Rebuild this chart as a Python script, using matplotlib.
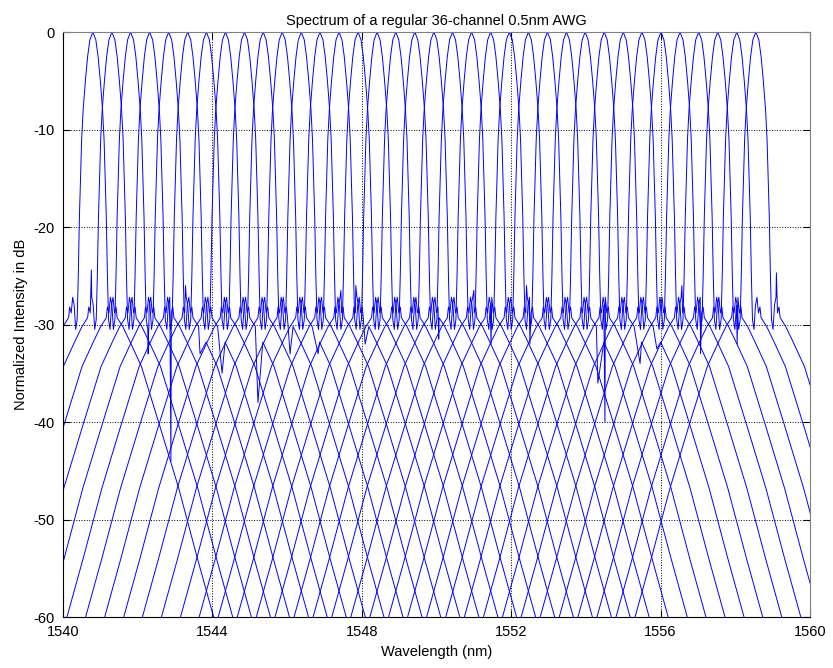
import numpy as np
import matplotlib
matplotlib.use("Agg")
import matplotlib.pyplot as plt

plt.rcParams["axes.unicode_minus"] = False

# ==== channel centre wavelengths (nm), read from the peaks ====
centers = [1540.80, 1541.31, 1541.81, 1542.32, 1542.83, 1543.34, 1543.84, 1544.35,
           1544.86, 1545.36, 1545.87, 1546.38, 1546.88, 1547.39, 1547.90, 1548.41,
           1548.91, 1549.42, 1549.93, 1550.43, 1550.94, 1551.45, 1551.95, 1552.46,
           1552.97, 1553.48, 1553.98, 1554.49, 1555.00, 1555.50, 1556.01, 1556.52,
           1557.02, 1557.53, 1558.04, 1558.55]

# ==== one channel response: offset from centre (nm) vs dB ====
prof_off = [-3.4, -2.8, -2.3, -1.8, -1.3, -1.0, -0.8, -0.65, -0.62, -0.58, -0.54,
            -0.50, -0.46, -0.42, -0.39, -0.36, -0.33, -0.30, -0.26, -0.20, -0.14,
            -0.08, 0.0, 0.08, 0.14, 0.20, 0.26, 0.30, 0.33, 0.36, 0.39, 0.42,
            0.46, 0.50, 0.54, 0.58, 0.62, 0.65, 0.8, 1.0, 1.3, 1.8, 2.3, 2.8, 3.4]
prof_db = [-62.3, -54.0, -46.8, -40.5, -34.3, -31.8, -30.2, -29.3, -28.2, -28.8, -27.2,
           -28.0, -30.5, -29.5, -25.0, -19.0, -15.0, -11.0, -8.0, -5.0, -2.5,
           -0.8, 0.0, -0.8, -2.5, -5.0, -8.0, -11.0, -15.0, -19.0, -25.0, -29.5,
           -30.5, -28.0, -27.2, -28.8, -28.2, -29.3, -30.2, -31.8, -34.3, -40.5, -46.8, -54.0, -62.3]

# ==== individual sidelobe spikes: channel index, offset (nm), dB ====
spike_ch = [1, 35, 2, 3, 4, 5, 7, 9, 10, 13, 17, 20, 22, 25, 26, 27, 28, 31, 33,
            6, 12, 15, 19, 24, 30]
spike_off = [-0.55, 0.55, 0.47, 0.57, 0.84, 0.92, 0.87, 0.72, 0.96, 0.70, 0.64, 0.52, 0.55,
             0.84, 0.53, 0.96, 0.90, 0.55, 0.52,
             -0.56, 0.56, -0.57, 0.57, -0.56, 0.56]
spike_db = [-24.4, -24.7, -33.0, -44.0, -33.0, -35.0, -38.0, -33.0, -33.0, -32.0, -31.5, -32.0, -32.0,
            -36.0, -40.0, -34.0, -32.5, -33.0, -32.0,
            -26.0, -26.5, -26.0, -26.5, -26.0, -26.0]

fig = plt.figure(figsize=(8.33, 6.68), dpi=100)
ax = fig.add_axes([0.0756, 0.0763, 0.8968, 0.8757])

for k, c in enumerate(centers):
    off = list(prof_off)
    db = list(prof_db)
    for ch, so, sd in zip(spike_ch, spike_off, spike_db):
        if ch == k:
            off.append(so)
            db.append(sd)
    order = np.argsort(off, kind="stable")
    x = c + np.array(off)[order]
    y = np.array(db)[order]
    ax.plot(x, y, color="#0000ff", linewidth=0.7)

ax.set_xlim(1540, 1560)
ax.set_ylim(-60, 0)
ax.set_xticks([1540, 1544, 1548, 1552, 1556, 1560])
ax.set_yticks([-60, -50, -40, -30, -20, -10, 0])
ax.grid(True, linestyle=":", color="black", linewidth=0.7)
ax.tick_params(direction="in", top=True, right=True, labelsize=10.5, length=5, pad=6)
for s in ["top", "right"]:
    ax.spines[s].set_color("#808080")

ax.set_title("Spectrum of a regular 36-channel 0.5nm AWG", fontsize=10.5, pad=5)
ax.set_xlabel("Wavelength (nm)", fontsize=10.5, labelpad=4)
ax.set_ylabel("Normalized Intensity in dB", fontsize=10.5, labelpad=4)

for t in ax.get_xticklabels() + ax.get_yticklabels() + [ax.title, ax.xaxis.label, ax.yaxis.label]:
    t.set_family("Liberation Sans")

fig.savefig("out.png", dpi=100)
